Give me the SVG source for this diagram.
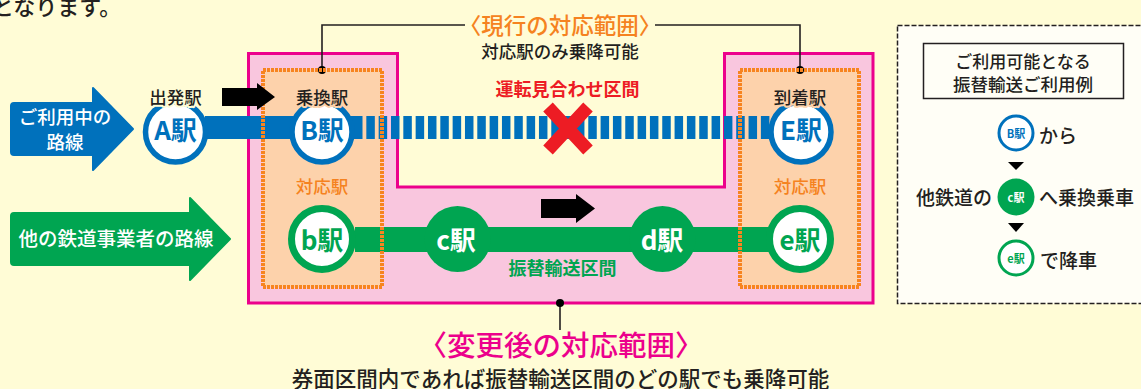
<svg xmlns="http://www.w3.org/2000/svg" width="1141" height="389" viewBox="0 0 1141 389">
<style>
text{font-family:"Noto Sans CJK JP","Noto Sans",sans-serif;text-anchor:middle;dominant-baseline:central;fill:#231f20}
.b{font-weight:700}
.m{font-weight:500}
.st{font-weight:700;font-size:26px}
.blue{fill:#0071bc}
.green{fill:#00a551}
.w{fill:#fff}
.or{fill:#f58220;font-weight:500}
.mg{fill:#ec008c;font-weight:500}
.ring{fill:#fff}
.rb{stroke:#0071bc;stroke-width:5.500}
.rg{stroke:#00a551;stroke-width:7}
.halo{paint-order:stroke;stroke-width:4px;stroke-linejoin:round}
.zone{fill:#fdd2ab}
.zb{fill:none;stroke:#f7841f;stroke-width:4;stroke-dasharray:3 1}
.lead{fill:none;stroke:#231f20;stroke-width:1.600}
.sb{stroke:#0071bc;stroke-width:3}
.sg{stroke:#00a551;stroke-width:3}
.s{font-weight:700;font-size:11px}
.ex{font-size:19px;font-weight:500}
</style>
<rect width="1141" height="389" fill="#fffcd6"/>
<text x="-8" y="5" class="m" font-size="22" style="text-anchor:start">となります。</text>

<g id="scope-after"><path d="M248.500 53.500H397.500V187H724.500V53.500H873V303H248.500Z" fill="#f9c6de" stroke="#ec008c" stroke-width="3"/></g>
<g id="zones"><rect x="263" y="70" width="119" height="217" class="zone"/><rect x="740" y="70" width="119" height="217" class="zone"/></g>

<g id="connectors">
<rect x="205" y="116" width="150" height="23" class="blue"/>
<path d="M354 127.500H772" fill="none" stroke="#0071bc" stroke-width="23" stroke-dasharray="8.500 3.830"/>
<rect x="355" y="227" width="420" height="25" class="green"/>
<path d="M322 70V25H465M655 25H800V70M560 303V330" class="lead"/>
<circle cx="322" cy="70" r="4"/><circle cx="800" cy="70" r="4"/><circle cx="560" cy="303" r="4"/>
<path d="M548 107L588 150M588 107L548 150" stroke="#ed1c24" stroke-width="13" fill="none"/>
</g>
<g id="zone-borders"><rect x="263" y="70" width="119" height="217" class="zb"/><rect x="740" y="70" width="119" height="217" class="zb"/></g>

<g id="line-current"><path d="M14 103H93V88L133 129L93 170V155H14Q11 155 11 152V106Q11 103 14 103Z" class="blue" stroke="#0071bc" stroke-width="2" stroke-linejoin="round"/>
<text x="65" y="116" class="w m" font-size="18.500">ご利用中の</text><text x="65" y="141" class="w m" font-size="18.500">路線</text></g>
<g id="line-other"><path d="M14 213H190V198L230 239L190 280V265H14Q11 265 11 262V216Q11 213 14 213Z" class="green" stroke="#00a551" stroke-width="2" stroke-linejoin="round"/>
<text x="116" y="237" class="w m" font-size="19.500">他の鉄道事業者の路線</text></g>

<g id="station-a"><circle cx="175.500" cy="132" r="30" class="ring rb"/><text x="175.500" y="128" class="st blue">A駅</text><text x="175.500" y="96" class="m halo" font-size="17.500" stroke="#fffcd6">出発駅</text></g>
<g id="station-b"><circle cx="322" cy="132" r="30" class="ring rb"/><text x="322" y="128" class="st blue">B駅</text><text x="322" y="96" class="m halo" font-size="17.500" stroke="#fdd2ab">乗換駅</text></g>
<g id="station-e"><circle cx="801" cy="132" r="30" class="ring rb"/><text x="801" y="128" class="st blue">E駅</text><text x="800" y="96" class="m halo" font-size="17.500" stroke="#fdd2ab">到着駅</text></g>
<g id="station-lb"><circle cx="322" cy="239" r="30.500" class="ring rg"/><text x="322" y="238" class="st green">b駅</text></g>
<g id="station-c"><circle cx="457.500" cy="239" r="33" class="green"/><text x="456" y="238" class="st w">c駅</text></g>
<g id="station-d"><circle cx="662.500" cy="239" r="33" class="green"/><text x="662" y="238" class="st w">d駅</text></g>
<g id="station-le"><circle cx="800" cy="239" r="30.500" class="ring rg"/><text x="800" y="238" class="st green">e駅</text></g>

<g id="dir-arrows"><path d="M222 88H257V83L275 97L257 110V106H222Z"/><path d="M541 199H576V194L595 208.500L576 223V218H541Z"/></g>

<g id="labels">
<text x="322" y="185" class="or" font-size="17.500">対応駅</text>
<text x="800" y="185" class="or" font-size="17.500">対応駅</text>
<text x="560" y="24" class="or b" font-size="22.500">〈現行の対応範囲〉</text>
<text x="560" y="50" class="m" font-size="17.500">対応駅のみ乗降可能</text>
<text x="567.500" y="88" class="b" style="fill:#ed1c24" font-size="18">運転見合わせ区間</text>
<text x="562.500" y="267" class="green b" font-size="18">振替輸送区間</text>
<text x="561" y="343" class="mg" font-size="28.500">〈変更後の対応範囲〉</text>
<text x="560.500" y="377" class="m" font-size="21.500">券面区間内であれば振替輸送区間のどの駅でも乗降可能</text>
</g>

<g id="example-panel">
<rect x="897.500" y="25.500" width="250" height="278" fill="#fffef6" stroke="#231f20" stroke-width="1.500" stroke-dasharray="5 2"/>
<rect x="923.500" y="43.500" width="200" height="55" fill="#fffef6" stroke="#231f20" stroke-width="1.500"/>
<text x="1023" y="60" class="m" font-size="17">ご利用可能となる</text>
<text x="1023" y="83" class="m" font-size="17.500">振替輸送ご利用例</text>
</g>
<g id="example-b"><circle cx="1016" cy="133" r="17" class="ring sb"/><text x="1016" y="133" class="s blue">B駅</text><text x="1039" y="134" class="ex" style="text-anchor:start">から</text></g>
<g id="example-c"><circle cx="1016" cy="197" r="18.500" class="green"/><text x="1016" y="197" class="s w">c駅</text><text x="954" y="196" class="ex">他鉄道の</text><text x="1039" y="196" class="ex" style="text-anchor:start">へ乗換乗車</text></g>
<g id="example-e"><circle cx="1016" cy="258" r="17" class="ring sg"/><text x="1016" y="258" class="s green">e駅</text><text x="1040" y="259" class="ex" style="text-anchor:start">で降車</text></g>
<g id="example-arrows"><path d="M1008 162H1024L1016 170Z"/><path d="M1008 223H1024L1016 232Z"/></g>
</svg>
